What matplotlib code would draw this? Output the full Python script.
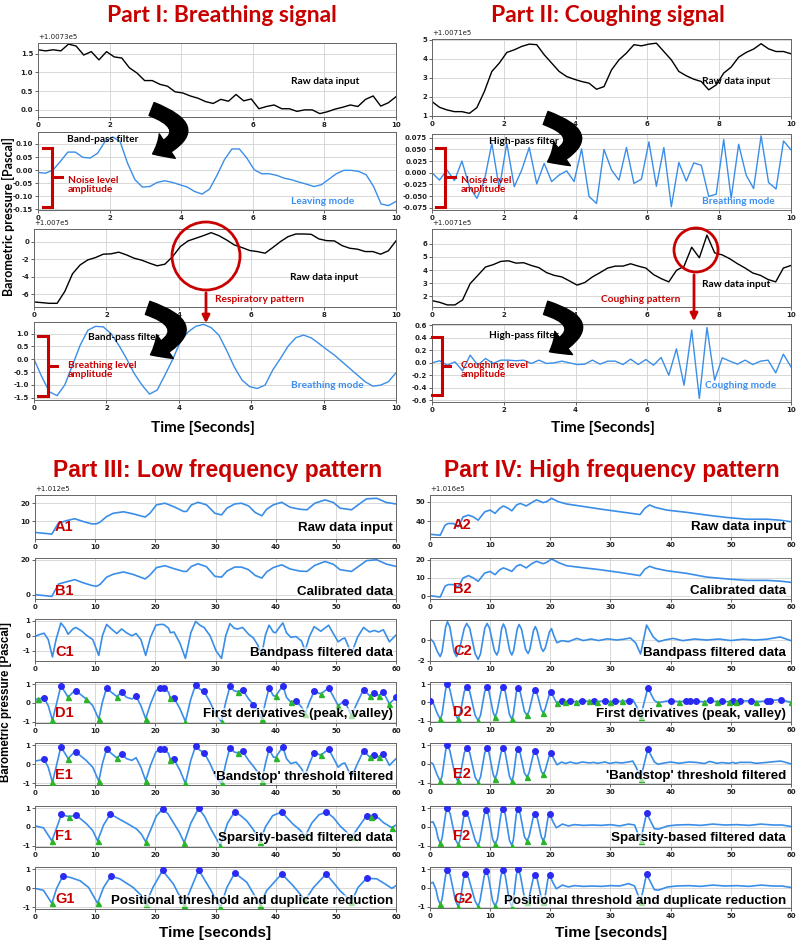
import numpy as np
import matplotlib
matplotlib.use('Agg')
import matplotlib.pyplot as plt
from matplotlib.patches import FancyArrowPatch, Ellipse
from matplotlib.lines import Line2D
from matplotlib.ticker import ScalarFormatter

plt.rcParams['font.weight'] = 'bold'
plt.rcParams['axes.unicode_minus'] = False

W, H = 796, 943
RED = '#c80000'
LINE = '#3a8ee8'
MODE = '#3c8ff0'
TOPF = ['Lato', 'DejaVu Sans']
ARIAL = ['Liberation Sans', 'DejaVu Sans']

# ---------------- Part I / II (10 s windows) ----------------
p1_raw1 = [1.60,1.57,1.60,1.57,1.75,1.70,1.46,1.55,1.33,1.55,1.41,1.38,1.12,0.98,0.78,0.78,0.68,0.63,0.48,0.45,
           0.37,0.31,0.22,0.17,0.28,0.23,0.41,0.24,0.29,0.03,0.09,0.13,0.03,0.03,-0.04,0.0,0.0,-0.10,-0.05,0.02,
           0.07,0.13,0.09,0.28,0.37,0.10,0.19,0.35]
p1_leave = [-0.009,-0.012,0.0,0.033,0.069,0.069,0.049,0.046,0.065,0.11,0.127,0.11,0.027,-0.037,-0.065,-0.063,
            -0.047,-0.041,-0.047,-0.056,-0.065,-0.082,-0.092,-0.073,-0.02,0.04,0.081,0.081,0.046,0.001,-0.014,
            -0.014,-0.02,-0.031,-0.037,-0.046,-0.054,-0.063,-0.056,-0.035,-0.014,-0.001,-0.001,-0.005,-0.018,
            -0.063,-0.13,-0.136,-0.12]
p1_raw2 = [-6.9,-6.98,-7.06,-7.06,-5.7,-3.68,-2.66,-2.09,-1.82,-1.44,-1.40,-1.21,-1.52,-1.90,-2.13,-2.47,-2.77,
           -2.58,-1.71,-0.57,0.08,0.38,0.68,1.02,0.68,0.19,-0.38,-0.68,-1.02,-1.14,-1.33,-0.68,0.0,0.57,0.87,
           0.87,0.83,0.30,0.11,0.08,-0.46,-0.76,-0.87,-1.14,-1.14,-1.44,-1.06,0.08]
p1_breath = [0.0,-0.68,-1.27,-1.42,-1.0,-0.23,0.55,1.13,1.28,1.26,1.0,0.55,0.03,-0.55,-1.0,-1.36,-1.20,-0.62,
             -0.01,0.68,1.06,1.28,1.36,1.23,0.94,0.35,-0.30,-0.81,-1.07,-1.14,-1.01,-0.42,0.03,0.51,0.84,0.94,
             0.83,0.61,0.38,0.16,-0.10,-0.36,-0.62,-0.88,-1.05,-1.01,-0.88,-0.53]
p2_raw1 = [1.74,1.44,1.30,1.21,1.21,1.12,1.42,2.27,3.33,3.77,4.33,4.47,4.65,4.77,4.74,4.21,3.77,3.33,3.06,2.92,
           2.80,2.71,2.39,2.53,3.41,3.94,4.30,4.74,4.68,4.77,4.82,4.38,3.94,3.33,3.10,2.92,2.80,2.36,2.62,3.24,
           3.56,4.08,4.33,4.51,4.79,4.52,4.38,4.38,4.26]
p2_breath = [0.0,-0.016,0.006,-0.017,0.025,-0.03,-0.055,-0.017,0.063,-0.034,0.063,-0.03,0.006,0.054,-0.024,0.02,
             -0.019,-0.005,0.004,-0.019,0.051,-0.051,-0.066,0.05,0.006,-0.016,0.054,-0.023,-0.014,0.066,-0.029,
             0.054,-0.073,0.022,-0.018,0.021,0.016,-0.051,-0.046,0.071,-0.055,0.061,-0.005,-0.034,0.079,-0.021,
             -0.035,0.068,0.049]
p2_raw2 = [1.65,1.52,1.32,1.32,1.70,2.96,3.59,4.23,4.41,4.66,4.71,4.53,4.56,4.35,4.18,3.80,3.59,3.47,3.16,2.84,
           3.04,3.47,3.80,4.15,4.30,4.30,4.48,4.30,4.15,3.65,3.34,3.09,3.97,4.30,5.75,4.94,6.68,5.32,5.16,4.86,
           4.48,4.15,3.77,3.59,3.27,3.09,4.15,4.35]
p2_cough = [-0.003,0.03,-0.04,0.013,-0.13,0.12,-0.04,0.067,-0.013,0.04,0.04,0.03,0.04,-0.013,0.04,-0.013,-0.003,
            0.024,-0.003,-0.03,-0.024,0.04,-0.024,0.024,0.024,-0.03,0.056,-0.03,0.05,-0.04,0.083,-0.2,0.22,-0.36,
            0.52,-0.57,0.56,-0.28,0.077,0.024,-0.024,0.04,-0.03,0.024,0.04,-0.163,0.136,-0.067]

# ---------------- Part III (low frequency, 60 s) ----------------
a1_t = [0,2.8,3.9,5.3,6.6,8.0,9.4,10.2,10.8,11.9,13.0,14.7,16.3,18.3,19.1,20.2,21.6,23.0,24.7,25.2,26.0,27.1,28.5,
        29.9,31.0,31.9,33.2,34.3,35.5,36.6,37.7,38.5,39.6,41.0,42.4,44.0,45.2,46.5,48.2,49.6,50.7,52.6,53.7,55.1,
        56.8,58.4,60]
a1_y = [4.0,3.1,9.1,10.5,11.5,10.0,8.7,8.7,9.6,12.7,14.5,15.3,14.2,12.4,14.5,19.1,20.0,18.2,15.5,15.5,19.1,20.5,
        19.1,14.5,13.6,17.3,19.6,20.0,18.5,14.9,13.1,16.7,19.1,20.5,17.8,16.7,16.4,20.0,21.8,20.4,17.3,16.4,19.1,
        22.4,22.7,20.4,19.6]
b1_y = [0.0,-1.0,6.1,7.4,8.6,6.8,5.3,4.8,5.8,10.0,11.7,13.0,11.6,9.0,11.2,15.5,16.6,15.0,13.3,13.3,16.2,17.7,16.0,
        10.5,10.0,13.5,15.8,15.8,14.3,11.0,9.5,13.0,15.5,17.1,14.7,13.5,13.3,16.8,19.0,17.4,14.3,13.3,16.0,19.5,
        20.0,17.5,16.2]
d1_t = [0,0.5,1.5,2.2,2.9,3.5,4.3,5.0,5.5,6.3,6.8,7.8,8.5,9.6,10.6,11.2,11.9,12.7,13.6,14.4,15.2,16.1,16.8,17.6,
        18.4,19.2,20.1,20.8,21.4,22.2,22.5,23.1,24.1,25.0,25.9,26.7,27.4,28.1,29.1,30.1,31.0,31.7,32.4,33.1,33.7,
        34.5,35.5,36.3,37.0,37.7,38.3,38.9,39.6,40.0,40.6,41.2,41.8,42.5,43.4,44.3,44.9,45.6,46.4,47.5,48.8,49.5,
        50.4,51.1,51.5,52.6,53.6,54.6,55.6,56.4,57.1,57.9,58.9,60]
c1_y = [-0.06,0.05,0.17,-0.25,-1.40,-0.25,0.85,0.50,0.10,0.45,0.55,0.30,0.05,-0.25,-1.30,0.0,0.75,0.45,0.15,0.45,
        0.20,0.0,0.15,-0.25,-1.30,-0.10,0.70,0.75,0.75,0.50,0.20,0.25,-0.50,-1.50,0.20,0.95,0.70,0.55,0.0,-1.0,
        -1.50,0.0,0.80,0.50,0.45,0.55,0.10,-0.15,-0.60,-1.20,0.05,0.70,0.25,0.20,0.55,0.85,0.20,-0.10,-0.05,-0.35,
        -1.00,-0.05,0.60,0.30,0.70,0.20,-0.40,-0.20,-0.15,-1.20,-0.10,0.55,0.25,0.35,0.25,0.40,-0.40,0.05]
d1_y = [0.18,0.20,0.27,-0.15,-0.94,-0.15,0.92,0.57,0.30,0.57,0.65,0.39,0.21,-0.15,-0.88,0.04,0.80,0.57,0.34,0.57,
        0.30,0.21,0.35,-0.15,-0.85,-0.05,0.65,0.80,0.80,0.57,0.25,0.27,-0.32,-1.00,0.21,0.97,0.74,0.62,0.04,-0.67,
        -1.00,0.04,0.88,0.65,0.60,0.71,0.21,-0.10,-0.40,-0.85,0.04,0.80,0.39,0.35,0.65,0.92,0.30,0.04,0.12,-0.23,
        -0.58,0.04,0.62,0.48,0.80,0.39,-0.15,0.04,0.07,-0.67,0.04,0.71,0.39,0.51,0.39,0.57,-0.05,0.30]
d1_peaks = [1.5,4.3,6.8,11.9,14.4,16.8,20.8,21.4,23.1,26.7,28.1,32.4,34.5,36.3,38.9,41.2,43.4,46.4,48.8,51.5,
            54.6,56.4,57.9,60]
d1_valleys = [0.5,2.9,5.5,8.5,10.6,13.6,18.4,22.5,25.0,31.0,33.7,37.7,40.0,42.5,44.9,47.5,50.4,52.6,55.6,57.1,58.9]
e1_peaks = [1.5,4.3,6.8,11.9,14.4,20.8,21.4,23.1,26.7,28.1,32.4,34.5,38.9,41.2,46.4,48.8,54.6,56.4,57.9]
e1_valleys = [2.9,5.5,10.6,13.6,18.4,22.5,25.0,31.0,33.7,37.7,40.0,47.5,55.6,57.1]
f1_t = [0,1.4,2.8,3.6,4.4,5.0,5.7,6.8,7.7,8.6,9.6,10.4,11.4,12.5,13.3,14.1,15.5,16.9,17.7,18.4,19.3,20.2,21.2,
        22.1,23.0,24.0,24.8,25.9,27.2,28.2,29.1,30.0,30.8,32.0,33.2,34.2,35.2,36.3,37.4,38.3,39.5,41.0,42.0,42.9,
        44.0,44.9,46.0,47.2,48.4,49.6,50.7,51.7,52.6,53.8,55.1,55.9,56.4,57.2,57.9,59.3,60]
f1_y = [0.05,-0.05,-0.75,-0.05,0.68,0.60,0.55,0.62,0.40,0.15,-0.20,-0.75,0.10,0.68,0.55,0.40,0.15,-0.12,-0.40,
        -0.80,-0.10,0.60,0.95,0.70,0.23,-0.30,-0.84,0.20,1.00,0.55,-0.03,-0.55,-1.00,0.20,0.82,0.60,0.32,-0.15,
        -0.80,0.00,0.60,0.80,0.45,0.14,-0.15,-0.50,0.20,0.65,0.80,0.50,0.05,-0.25,-0.57,0.00,0.59,0.55,0.59,0.45,
        0.23,-0.04,0.10]
f1_peaks = [4.4,6.8,12.5,21.2,27.2,33.2,41.0,48.4,55.1,56.4]
f1_valleys = [2.8,5.7,10.4,18.4,24.8,30.8,37.4,44.9,52.6,55.9,59.3]
g1_t = [0,1.4,2.8,3.6,4.6,5.8,7.5,8.9,10.4,11.4,12.6,14.1,16.3,17.6,18.4,19.6,21.2,23.0,24.8,26.0,27.2,29.1,30.8,
        31.9,33.2,35.2,37.4,38.5,41.0,42.9,44.9,46.3,48.4,50.7,52.6,53.7,55.1,56.8,58.2,59.3,60]
g1_y = [0.0,-0.10,-0.78,0.00,0.64,0.58,0.40,0.05,-0.78,0.05,0.64,0.50,0.05,-0.35,-0.83,0.05,0.94,0.23,-0.87,0.05,
        0.97,-0.03,-1.00,0.05,0.81,0.32,-0.87,-0.12,0.76,0.14,-0.62,0.05,0.76,-0.12,-0.69,0.05,0.53,0.50,0.23,0.00,
        0.14]
g1_peaks = [4.6,12.6,21.2,27.2,33.2,41.0,48.4,55.1]
g1_valleys = [2.8,10.4,18.4,24.8,30.8,37.4,44.9,52.6]

# ---------------- Part IV (high frequency, 60 s) ----------------
a2_t = [0,1.7,2.5,3.0,3.9,4.7,5.5,6.4,7.2,8.0,9.1,10.0,10.8,11.6,12.2,13.0,13.6,14.4,15.0,16.0,16.9,17.7,18.8,19.4,
        20.2,21.3,22.7,24.9,28.3,31.6,34.9,35.7,36.5,37.4,39.3,42.7,46.0,49.3,52.6,56.0,58.2,60]
a2_y = [33.3,32.8,37.9,38.8,38.8,37.1,42.2,43.1,42.2,40.5,44.8,45.7,44.0,46.6,47.8,46.6,45.3,48.3,49.1,47.8,49.5,
        50.9,49.5,50.0,51.7,50.0,48.8,47.8,46.2,44.8,43.4,46.6,48.3,47.1,45.7,44.5,43.1,41.9,41.0,41.0,40.5,39.7]
b2_y = [0.4,-0.4,5.5,6.4,6.4,5.1,10.0,11.3,10.0,8.2,12.7,13.6,11.8,14.5,15.5,14.5,13.6,16.5,17.3,15.5,17.8,19.1,
        17.8,18.5,20.4,18.5,16.7,15.8,14.5,13.0,11.3,14.8,16.4,15.3,14.0,12.5,10.5,9.5,8.7,8.7,8.3,7.6]
c2_t = [0,0.6,1.2,1.7,2.0,2.6,2.9,3.3,4.0,4.4,4.8,5.7,6.1,6.6,7.5,8.0,8.4,9.1,9.5,9.9,10.7,11.1,11.4,11.9,12.2,
        12.55,13.25,13.6,13.9,14.5,14.8,15.2,15.9,16.3,16.6,17.2,17.5,17.8,18.5,18.8,19.15,19.85,20.2,20.6,21.1,
        21.9,23.0,24.4,25.5,26.8,28.0,29.5,31.0,32.2,33.3,34.2,35.0,36.0,37.1,38.0,39.0,40.4,42.0,44.0,46.0,48.0,
        50.0,52.0,54.0,56.0,58.2,60]
c2_y = [0.16,-0.20,-1.10,-1.60,-1.14,1.26,1.77,1.26,-1.14,-1.60,-1.14,1.14,1.60,1.14,-1.33,-1.87,-1.33,1.14,1.60,
        1.14,-1.03,-1.45,-1.03,1.10,1.55,1.10,-1.03,-1.45,-1.03,1.07,1.50,1.07,-0.92,-1.30,-0.92,0.92,1.30,0.92,
        -0.78,-1.10,-0.78,0.78,1.10,0.40,-0.26,-0.06,-0.16,0.16,-0.05,0.10,-0.05,0.12,0.0,0.08,0.20,-0.30,-1.35,
        1.45,0.30,-0.16,0.0,0.16,-0.06,0.10,0.0,0.10,-0.05,0.08,0.0,0.08,0.30,-0.06]
e2_t = [0,0.5,1.2,1.7,2.0,2.6,2.9,3.3,4.2,4.6,5.0,5.7,6.1,6.6,7.5,8.0,8.4,9.1,9.5,9.8,10.5,10.8,11.1,11.8,12.1,
        12.5,13.2,13.6,13.85,14.35,14.6,15.0,15.7,16.1,16.45,17.15,17.5,17.8,18.5,18.8,19.1,19.8,20.1,20.6,21.1,
        21.9,22.5,23.3,24.3,25.3,26.5,27.2,27.8,29.1,29.9,30.8,31.9,33.0,33.7,34.3,35.0,36.2,37.3,37.9,39.0,40.0,
        41.4,42.5,43.2,44.2,45.6,46.5,47.7,48.5,49.7,50.3,50.8,51.5,53.3,54.2,56.0,56.5,58.3,60]
e2_y = [0.10,0.0,-0.60,-0.93,-0.66,0.71,1.00,0.71,-0.65,-0.91,-0.65,0.60,0.84,0.60,-0.71,-1.00,-0.71,0.60,0.84,
        0.60,-0.56,-0.79,-0.56,0.60,0.84,0.60,-0.66,-0.93,-0.66,0.56,0.79,0.56,-0.50,-0.70,-0.50,0.48,0.67,0.48,
        -0.40,-0.56,-0.40,0.41,0.58,0.25,-0.05,0.10,0.02,0.10,0.02,0.10,0.05,0.08,0.03,0.10,0.02,0.08,0.05,0.10,
        0.15,-0.20,-0.79,0.79,0.10,-0.02,0.05,0.10,0.03,0.08,0.10,0.08,0.02,0.13,0.03,0.07,0.03,0.08,0.03,0.08,
        0.08,0.03,0.08,0.10,0.15,0.0]
d2_peaks = [0,2.9,6.1,9.5,12.1,14.6,17.5,20.1,21.9,23.3,25.3,27.2,29.1,30.8,33.0,36.2,40.0,42.5,43.2,44.2,46.5,
            48.5,50.3,51.5,53.3,56.0,56.5,58.3]
d2_valleys = [1.7,4.6,8.0,10.8,13.6,16.1,18.8,21.1,22.5,24.3,26.5,27.8,29.9,31.9,35.0,37.9,41.4,45.6,47.7,49.7,
              50.8,54.2,60]
e2_peaks = [2.9,6.1,9.5,12.1,14.6,17.5,20.1,36.2]
e2_valleys = [1.7,4.6,8.0,10.8,13.6,16.1,18.8,35.0]
f2_t = [0,0.5,1.0,1.35,1.7,2.0,2.6,2.9,3.35,4.25,4.7,5.0,5.6,5.9,6.4,7.5,8.0,8.3,9.0,9.3,9.7,10.4,10.8,11.2,11.8,
        12.1,12.5,13.2,13.6,13.85,14.35,14.6,15.0,15.7,16.1,16.45,17.15,17.5,17.8,18.5,18.8,19.1,19.6,19.9,20.4,
        21.0,22.0,23.0,24.0,25.5,27.0,28.5,30.0,31.5,33.0,34.0,35.0,36.0,37.3,38.0,39.5,41.0,43.0,45.0,47.0,49.0,
        51.0,53.0,55.0,57.0,58.5,60]
f2_y = [0.23,0.27,-0.10,-0.62,-0.88,-0.62,0.71,1.00,0.71,-0.69,-0.97,-0.69,0.54,0.76,0.54,-0.71,-1.00,-0.71,0.64,
        0.90,0.64,-0.65,-0.92,-0.65,0.69,0.97,0.69,-0.71,-1.00,-0.71,0.69,0.97,0.69,-0.53,-0.74,-0.53,0.50,0.71,
        0.50,-0.53,-0.74,-0.53,0.48,0.67,0.30,-0.05,0.15,0.05,0.12,0.08,0.10,0.08,0.12,0.05,0.15,0.10,-0.74,0.73,
        -0.10,-0.12,0.05,0.10,0.12,0.08,0.15,0.10,0.12,0.08,0.15,0.10,0.10,0.02]
g2_y = [0.23,0.30,-0.10,-0.62,-0.88,-0.62,0.69,0.97,0.69,-0.71,-1.00,-0.71,0.54,0.76,0.54,-0.71,-1.00,-0.71,0.62,
        0.88,0.62,-0.69,-0.97,-0.69,0.67,0.94,0.67,-0.71,-1.00,-0.71,0.70,0.99,0.70,-0.53,-0.74,-0.53,0.50,0.71,
        0.50,-0.53,-0.74,-0.53,0.48,0.67,0.30,-0.05,0.15,0.05,0.12,0.08,0.10,0.08,0.12,0.10,0.23,0.10,-0.74,0.73,
        -0.10,-0.12,0.05,0.10,0.12,0.08,0.15,0.10,0.12,0.08,0.15,0.10,0.10,0.02]
fg2_peaks = [2.9,5.9,9.3,12.1,14.6,17.5,19.9,36.0]
fg2_valleys = [1.7,4.7,8.0,10.8,13.6,16.1,18.8,35.0]

OFF_P1A, OFF_P1C, OFF_P2, OFF_A1, OFF_A2 = 100730, 100700, 100710, 101200, 101600

fig = plt.figure(figsize=(W/100, H/100), dpi=100)

def add_ax(l, t, r, b):
    return fig.add_axes([l/W, 1-b/H, (r-l)/W, (b-t)/H])

def style(ax, xlim, xticks, ylim, yticks, offset=None):
    ax.set_xlim(*xlim); ax.set_xticks(xticks)
    ax.set_ylim(*ylim); ax.set_yticks(yticks)
    ax.yaxis.set_major_formatter(ScalarFormatter(useOffset=offset if offset else False))
    ax.grid(True, color='#d2d2d2', lw=0.6)
    ax.set_axisbelow(True)
    ax.tick_params(labelsize=5, length=2, width=0.5, pad=1.5, colors='#222')
    ax.yaxis.get_offset_text().set_fontsize(5)
    ax.yaxis.get_offset_text().set_fontweight('normal')
    for s in ax.spines.values():
        s.set_color('#666'); s.set_linewidth(0.7)

def pick(ts, ys, sel):
    ts = np.asarray(ts); ys = np.asarray(ys)
    idx = [int(np.argmin(np.abs(ts - s))) for s in sel]
    return ts[idx], ys[idx]

def ftext(x, y, s, **kw):
    kw.setdefault('va', 'center')
    fig.text(x/W, 1-y/H, s, **kw)

def fline(xs, ys, **kw):
    fig.add_artist(Line2D([x/W for x in xs], [1-y/H for y in ys], transform=fig.transFigure, **kw))

def bracket(x, y0, y1, xs, xn, yn):
    fline([xs, x, x, xs], [y0, y0, y1, y1], color=RED, lw=2.2, solid_joinstyle='miter')
    fline([x, xn], [yn, yn], color=RED, lw=2.2)

def curved_arrow(x0, y0, x1, y1, rad):
    fig.add_artist(FancyArrowPatch((x0/W, 1-y0/H), (x1/W, 1-y1/H), transform=fig.transFigure,
                                   connectionstyle=f'arc3,rad={rad}',
                                   arrowstyle='simple,head_length=1.2,head_width=2.1,tail_width=1.0',
                                   mutation_scale=10, color='black', zorder=10))

def red_arrow(x, y0, y1):
    fig.add_artist(FancyArrowPatch((x/W, 1-y0/H), (x/W, 1-y1/H), transform=fig.transFigure,
                                   arrowstyle='-|>', mutation_scale=11, lw=2, color=RED, zorder=10))

def red_circle(cx, cy, r):
    fig.add_artist(Ellipse((cx/W, 1-cy/H), 2*r/W, 2*r/H, transform=fig.transFigure,
                           fill=False, ec=RED, lw=2, zorder=10))

tk10 = [0, 2, 4, 6, 8, 10]
# ---- Part I ----
ax = add_ax(38, 43, 396, 117)
ax.plot(np.linspace(0, 10, len(p1_raw1)), OFF_P1A + np.array(p1_raw1), color='black', lw=1)
style(ax, (0, 10), tk10, (OFF_P1A-0.19, OFF_P1A+1.78), [OFF_P1A+v for v in (0, 0.5, 1.0, 1.5)], OFF_P1A)
ax = add_ax(38, 132, 396, 210)
ax.plot(np.linspace(0, 10, len(p1_leave)), p1_leave, color=LINE, lw=1)
style(ax, (0, 10), tk10, (-0.153, 0.146), [-0.15, -0.10, -0.05, 0, 0.05, 0.10])
ax = add_ax(34, 229, 396, 307)
ax.plot(np.linspace(0, 10, len(p1_raw2)), OFF_P1C + np.array(p1_raw2), color='black', lw=1)
style(ax, (0, 10), tk10, (OFF_P1C-7.48, OFF_P1C+1.44), [OFF_P1C+v for v in (-6, -4, -2, 0)], OFF_P1C)
ax = add_ax(34, 322, 396, 400)
ax.plot(np.linspace(0, 10, len(p1_breath)), p1_breath, color=LINE, lw=1)
style(ax, (0, 10), tk10, (-1.59, 1.45), [-1.5, -1.0, -0.5, 0, 0.5, 1.0])

# ---- Part II ----
ax = add_ax(432, 39, 791, 116)
ax.plot(np.linspace(0, 10, len(p2_raw1)), OFF_P2 + np.array(p2_raw1), color='black', lw=1)
style(ax, (0, 10), tk10, (OFF_P2+0.98, OFF_P2+5.04), [OFF_P2+v for v in (1, 2, 3, 4, 5)], OFF_P2)
ax = add_ax(432, 134, 791, 210)
ax.plot(np.linspace(0, 10, len(p2_breath)), p2_breath, color=LINE, lw=1)
style(ax, (0, 10), tk10, (-0.080, 0.083), [-0.075, -0.05, -0.025, 0, 0.025, 0.05, 0.075])
ax.yaxis.set_major_formatter(plt.FormatStrFormatter('%.3f'))
ax = add_ax(432, 229, 791, 307)
ax.plot(np.linspace(0, 10, len(p2_raw2)), OFF_P2 + np.array(p2_raw2), color='black', lw=1)
style(ax, (0, 10), tk10, (OFF_P2+1.16, OFF_P2+7.15), [OFF_P2+v for v in (2, 3, 4, 5, 6)], OFF_P2)
ax = add_ax(432, 324, 791, 402)
ax.plot(np.linspace(0, 10, len(p2_cough)), p2_cough, color=LINE, lw=1)
style(ax, (0, 10), tk10, (-0.627, 0.616), [-0.6, -0.4, -0.2, 0, 0.2, 0.4, 0.6])

# ---- Part III / IV ----
tk60 = [0, 10, 20, 30, 40, 50, 60]
rowsIII = [(495, 539), (558, 599), (619, 661), (682, 723), (743, 785), (806, 847), (867, 909)]
rowsIV = [(495, 537), (558, 599), (620, 661), (682, 722), (743, 784), (806, 847), (867, 908)]
lab_right = ['Raw data input', 'Calibrated data', 'Bandpass filtered data', 'First derivatives (peak, valley)',
             "'Bandstop' threshold filtered", 'Sparsity-based filtered data',
             'Positional threshold and duplicate reduction']
lab_y3 = [528, 592, 653, 714, 777, 838, 901]
lab_y4 = [527, 591, 653, 714, 776, 838, 901]

def panel(left, right, row, ts, ys, ylim, yticks, offset=None, peaks=None, valleys=None):
    ax = add_ax(left, row[0], right, row[1])
    ys = np.asarray(ys, float) + (offset or 0)
    ax.plot(ts, ys, color=LINE, lw=1.2, zorder=2)
    if peaks is not None:
        px, py = pick(ts, ys, peaks)
        ax.plot(px, py, 'o', color='#2a2af2', ms=4, zorder=3)
    if valleys is not None:
        vx, vy = pick(ts, ys, valleys)
        ax.plot(vx, vy, '^', color='#2bb52b', ms=3.6, zorder=3)
    if offset:
        style(ax, (0, 60), tk60, (offset+ylim[0], offset+ylim[1]), [offset+v for v in yticks], offset)
    else:
        style(ax, (0, 60), tk60, ylim, yticks)
    return ax

L3, R3, L4, R4 = 35, 396, 430, 791
nrm = (-1.08, 1.12)
panel(L3, R3, rowsIII[0], a1_t, a1_y, (0.4, 24.5), [10, 20], OFF_A1)
panel(L3, R3, rowsIII[1], a1_t, b1_y, (-2.5, 21), [0, 20])
panel(L3, R3, rowsIII[2], d1_t, c1_y, (-1.67, 1.11), [-1, 0, 1])
panel(L3, R3, rowsIII[3], d1_t, d1_y, nrm, [-1, 0, 1], peaks=d1_peaks, valleys=d1_valleys)
panel(L3, R3, rowsIII[4], d1_t, d1_y, nrm, [-1, 0, 1], peaks=e1_peaks, valleys=e1_valleys)
panel(L3, R3, rowsIII[5], f1_t, f1_y, nrm, [-1, 0, 1], peaks=f1_peaks, valleys=f1_valleys)
panel(L3, R3, rowsIII[6], g1_t, g1_y, nrm, [-1, 0, 1], peaks=g1_peaks, valleys=g1_valleys)

panel(L4, R4, rowsIV[0], a2_t, a2_y, (31.9, 53.4), [40, 50], OFF_A2)
panel(L4, R4, rowsIV[1], a2_t, b2_y, (-1.45, 20.9), [0, 10, 20])
panel(L4, R4, rowsIV[2], c2_t, c2_y, (-2.03, 1.94), [-2, 0])
panel(L4, R4, rowsIV[3], e2_t, e2_y, nrm, [-1, 0, 1], peaks=d2_peaks, valleys=d2_valleys)
panel(L4, R4, rowsIV[4], e2_t, e2_y, nrm, [-1, 0, 1], peaks=e2_peaks, valleys=e2_valleys)
panel(L4, R4, rowsIV[5], f2_t, f2_y, nrm, [-1, 0, 1], peaks=fg2_peaks, valleys=fg2_valleys)
panel(L4, R4, rowsIV[6], f2_t, g2_y, nrm, [-1, 0, 1], peaks=fg2_peaks, valleys=fg2_valleys)

for i in range(7):
    code = 'ABCDEFG'[i]
    ftext(55, lab_y3[i] - 2 + (1 if i < 4 else 0), code + '1', color=RED, fontsize=10.5, family=ARIAL, ha='left')
    ftext(453, lab_y4[i] - 2, code + '2', color=RED, fontsize=10.5, family=ARIAL, ha='left')
    for xr, yy in ((393, lab_y3[i]), (786, lab_y4[i])):
        ftext(xr, yy, lab_right[i], fontsize=9.6, family=ARIAL, ha='right', zorder=20,
              bbox=dict(fc='white', ec='none', alpha=0.6, pad=0))

# ---- titles and axis labels ----
ftext(222, 16, 'Part I: Breathing signal', color=RED, fontsize=16.5, family=TOPF, ha='center')
ftext(608, 16, 'Part II: Coughing signal', color=RED, fontsize=16.5, family=TOPF, ha='center')
ftext(218, 471, 'Part III: Low frequency pattern', color=RED, fontsize=16.5, family=ARIAL, ha='center')
ftext(612, 471, 'Part IV: High frequency pattern', color=RED, fontsize=16.5, family=ARIAL, ha='center')
ftext(203, 428, 'Time [Seconds]', fontsize=11, family=TOPF, ha='center')
ftext(603, 428, 'Time [Seconds]', fontsize=11, family=TOPF, ha='center')
ftext(215, 933, 'Time [seconds]', fontsize=11, family=ARIAL, ha='center')
ftext(611, 933, 'Time [seconds]', fontsize=11, family=ARIAL, ha='center')
ftext(8, 217, 'Barometric pressure [Pascal]', fontsize=9, family=TOPF, ha='center', rotation=90)
ftext(6, 702, 'Barometric pressure [Pascal]', fontsize=8.3, family=ARIAL, ha='center', rotation=90)

# ---- Part I annotations ----
ftext(325, 81, 'Raw data input', fontsize=7.3, family=TOPF, ha='center')
curved_arrow(149, 108, 150, 155, -1.25)
ftext(103, 139, 'Band-pass filter', fontsize=7.3, family=TOPF, ha='center')
bracket(52, 148, 207, 43, 62, 177)
ftext(68, 185, 'Noise level\namplitude', fontsize=7.3, family=TOPF, color=RED, ha='left', linespacing=1.1)
ftext(323, 202, 'Leaving mode', fontsize=7.3, family=TOPF, color=MODE, ha='center')
red_circle(206, 256, 34)
red_arrow(206, 290, 326)
ftext(215, 300, 'Respiratory pattern', fontsize=7.3, family=TOPF, color=RED, ha='left')
ftext(324, 277, 'Raw data input', fontsize=7.3, family=TOPF, ha='center')
curved_arrow(145, 307, 148, 356, -1.25)
ftext(124, 338, 'Band-pass filter', fontsize=7.3, family=TOPF, ha='center')
bracket(48, 336, 396, 38, 57, 366)
ftext(68, 370, 'Breathing level\namplitude', fontsize=7.3, family=TOPF, color=RED, ha='left', linespacing=1.1)
ftext(327, 385, 'Breathing mode', fontsize=7.3, family=TOPF, color=MODE, ha='center')

# ---- Part II annotations ----
ftext(736, 81, 'Raw data input', fontsize=7.3, family=TOPF, ha='center')
curved_arrow(543, 117, 545, 163, -1.25)
ftext(524, 142, 'High-pass filter', fontsize=7.3, family=TOPF, ha='center')
bracket(445, 148, 207, 436, 455, 177)
ftext(461, 185, 'Noise level\namplitude', fontsize=7.3, family=TOPF, color=RED, ha='left', linespacing=1.1)
ftext(738, 202, 'Breathing mode', fontsize=7.3, family=TOPF, color=MODE, ha='center')
red_circle(696, 250, 22)
red_arrow(694, 272, 324)
ftext(736, 284, 'Raw data input', fontsize=7.3, family=TOPF, ha='center')
ftext(641, 299, 'Coughing pattern', fontsize=7.3, family=TOPF, color=RED, ha='center')
curved_arrow(543, 307, 547, 353, -1.25)
ftext(524, 335, 'High-pass filter', fontsize=7.3, family=TOPF, ha='center')
bracket(442, 337, 395, 432, 450, 366)
ftext(461, 370, 'Coughing level\namplitude', fontsize=7.3, family=TOPF, color=RED, ha='left', linespacing=1.1)
ftext(741, 385, 'Coughing mode', fontsize=7.3, family=TOPF, color=MODE, ha='center')

fig.savefig('out.png', dpi=100)
